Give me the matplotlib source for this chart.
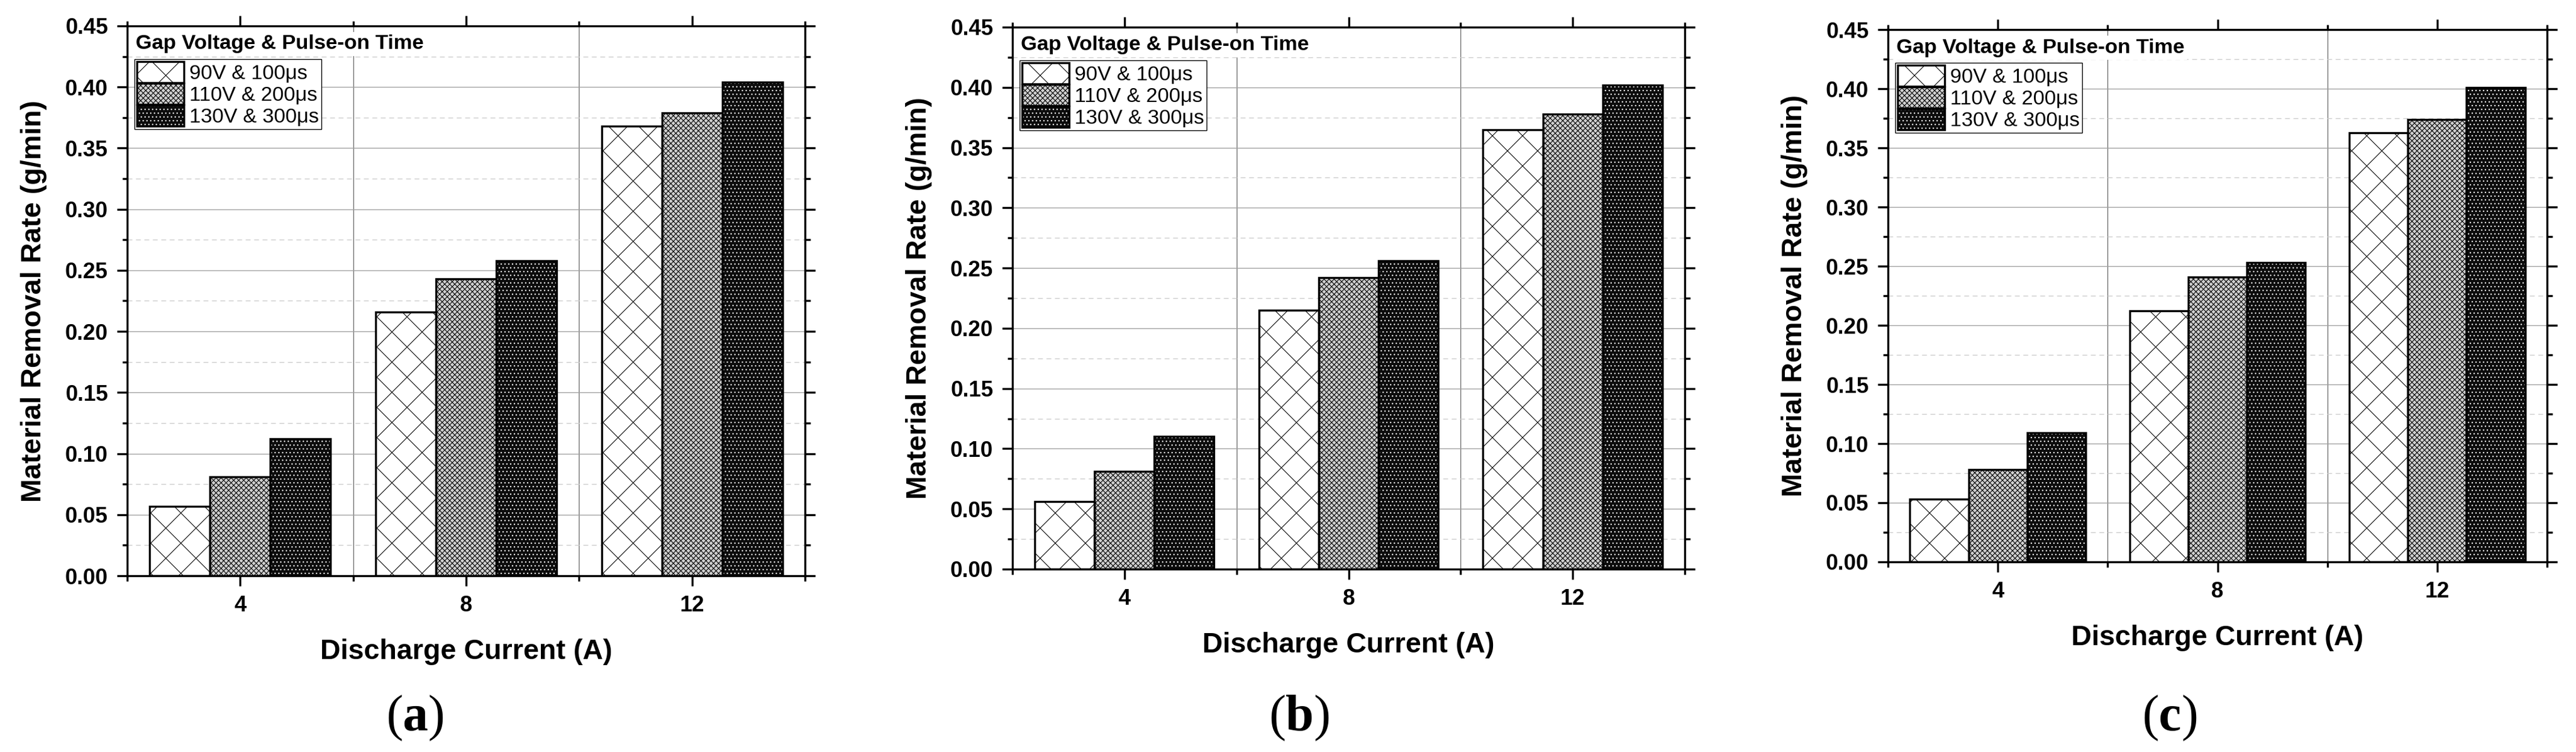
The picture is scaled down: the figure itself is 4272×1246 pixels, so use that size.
import matplotlib
matplotlib.use("Agg")
import matplotlib.pyplot as plt
from matplotlib.ticker import FixedLocator, MultipleLocator, FormatStrFormatter
from matplotlib.patches import Patch

# ---------------- data ----------------
currents = [4, 8, 12]
series_labels = ["90V & 100μs", "110V & 200μs", "130V & 300μs"]
legend_title = "Gap Voltage & Pulse-on Time"
x_label = "Discharge Current (A)"
y_label = "Material Removal Rate (g/min)"
panel_tags = ["a", "b", "c"]

mrr_a_90v = [0.057, 0.216, 0.368]
mrr_a_110v = [0.081, 0.243, 0.379]
mrr_a_130v = [0.112, 0.258, 0.404]

mrr_b_90v = [0.056, 0.215, 0.365]
mrr_b_110v = [0.081, 0.242, 0.378]
mrr_b_130v = [0.110, 0.256, 0.402]

mrr_c_90v = [0.053, 0.212, 0.363]
mrr_c_110v = [0.078, 0.241, 0.374]
mrr_c_130v = [0.109, 0.253, 0.401]

y_major_ticks = [0.00, 0.05, 0.10, 0.15, 0.20, 0.25, 0.30, 0.35, 0.40, 0.45]

# ---------------- style ----------------
DPI = 150
W, H = 4272, 1246
PT = 72.0 / DPI  # pixels -> points


def px(v):
    return v * PT


plt.rcParams["font.family"] = ["Liberation Sans", "DejaVu Sans"]
plt.rcParams["hatch.linewidth"] = px(1.1)
plt.rcParams["lines.scale_dashes"] = False
plt.rcParams["mathtext.fontset"] = "custom"
plt.rcParams["mathtext.rm"] = "Liberation Serif"
plt.rcParams["mathtext.bf"] = "Liberation Serif:bold"

fig = plt.figure(figsize=(W / DPI, H / DPI), dpi=DPI)

# axes boxes in pixels: left, top, right, bottom
boxes = [(211, 43, 1335, 954), (1679, 45, 2794, 943), (3131, 49, 4224, 931)]
caption_x = [688, 2154, 3598]
caption_y = 1190

styles = [
    dict(face="white", hatch="x", hcolor="black"),
    dict(face="#d0d0d0", hatch="xxxxxx", hcolor="black"),
    dict(face="#0c0c0c", hatch="....", hcolor="white"),
]

panels = [
    [mrr_a_90v, mrr_a_110v, mrr_a_130v],
    [mrr_b_90v, mrr_b_110v, mrr_b_130v],
    [mrr_c_90v, mrr_c_110v, mrr_c_130v],
]

bar_w = 3.2 / 3
edge_lw = px(3.4)
for series, box, tag, cx in zip(panels, boxes, panel_tags, caption_x):
    l, t, r, b = box
    axw, axh = r - l, b - t
    ax = fig.add_axes([l / W, 1 - b / H, axw / W, axh / H])
    ax.set_xlim(2, 14)
    ax.set_ylim(0, 0.45)
    ax.set_axisbelow(True)

    handles = []
    for i, (vals, st) in enumerate(zip(series, styles)):
        pos = [c + (i - 1) * bar_w for c in currents]
        ax.bar(pos, vals, bar_w, color=st["face"], edgecolor=st["hcolor"],
               hatch=st["hatch"], linewidth=0, zorder=2)
        ax.bar(pos, vals, bar_w, fill=False, edgecolor="black",
               linewidth=edge_lw, zorder=3)
        handles.append((Patch(facecolor=st["face"], edgecolor=st["hcolor"],
                              hatch=st["hatch"], linewidth=0),
                        Patch(fill=False, edgecolor="black", linewidth=edge_lw)))

    # ticks
    ax.xaxis.set_major_locator(FixedLocator(currents))
    ax.xaxis.set_minor_locator(FixedLocator([2, 6, 10, 14]))
    ax.yaxis.set_major_locator(FixedLocator(y_major_ticks))
    ax.yaxis.set_minor_locator(MultipleLocator(0.025))
    ax.yaxis.set_major_formatter(FormatStrFormatter("%.2f"))
    ax.tick_params(which="both", direction="out", top=True, right=True,
                   width=px(3.4), color="black")
    ax.tick_params(which="major", length=px(17), labelsize=px(36.5), pad=px(15))
    ax.tick_params(which="minor", length=px(8.5))
    for lab in ax.get_xticklabels() + ax.get_yticklabels():
        lab.set_fontweight("bold")
    for sp in ax.spines.values():
        sp.set_linewidth(px(3.4))

    # grid
    ax.yaxis.grid(True, which="major", color="#a0a0a0", linewidth=px(1.4), linestyle="-")
    ax.yaxis.grid(True, which="minor", color="#cccccc", linewidth=px(1.4),
                  linestyle=(0, (px(8), px(6))))
    ax.xaxis.grid(True, which="minor", color="#6e6e6e", linewidth=px(1.4), linestyle="-")
    ax.xaxis.grid(False, which="major")

    # labels
    ax.set_xlabel(x_label, fontsize=px(46.7), fontweight="bold", va="center")
    ax.set_ylabel(y_label, fontsize=px(46.7), fontweight="bold", va="center")
    ax.xaxis.set_label_coords(0.5, -126 / axh)
    ax.yaxis.set_label_coords(-155 / axw, 0.5)

    # legend title and legend
    ax.text(14 / axw, 1 - 30 / axh, legend_title, transform=ax.transAxes,
            ha="left", va="center", fontsize=px(34.5), fontweight="bold", zorder=4,
            bbox=dict(facecolor="white", edgecolor="none", pad=2))
    fs_leg = 34.0
    leg = ax.legend(handles, series_labels, loc="upper left",
                    bbox_to_anchor=(12 / axw, 1 - 55 / axh),
                    borderaxespad=0, borderpad=0.12, handlelength=78 / fs_leg,
                    handleheight=41 / fs_leg, labelspacing=0.0,
                    handletextpad=9 / fs_leg,
                    frameon=True, fancybox=False, edgecolor="black",
                    framealpha=1, prop={"size": px(fs_leg)})
    leg.get_frame().set_linewidth(px(1.4))

    # panel caption
    fig.text(cx / W, 1 - caption_y / H, "(" + r"$\mathbf{" + tag + "}$" + ")",
             ha="center", va="center", fontsize=px(84), family="Liberation Serif")

fig.savefig("out.png", dpi=DPI)
